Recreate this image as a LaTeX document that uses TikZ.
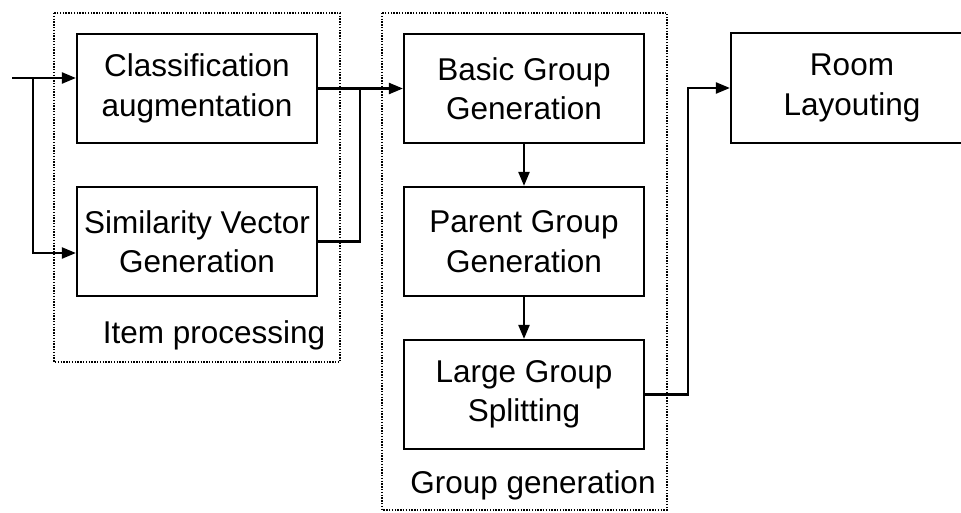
\documentclass[tikz,border=0pt]{standalone}
\usepackage{fontspec}
\setmainfont{Liberation Sans}
\usetikzlibrary{arrows.meta}
\begin{document}
\begin{tikzpicture}[x=1pt,y=-1pt,
  stepbox/.style={draw,line width=2.2pt,minimum width=240pt,minimum height=109pt,
    inner sep=0pt,align=center,font=\fontsize{31.5}{39.5}\selectfont},
  grp/.style={draw,line width=1.6pt,dash pattern=on 1.4pt off 1.4pt},
  lbl/.style={font=\fontsize{31.5}{39.5}\selectfont,inner sep=0pt,anchor=base},
  conn/.style={line width=2.2pt},
  arr/.style={conn,-{Triangle[length=14pt,width=11pt]}}]
\useasboundingbox (0,0) rectangle (961,512);
% group frames
\draw[grp] (54,13) rectangle (340,362);
\draw[grp] (382,13) rectangle (667,510);
% nodes
\node[stepbox] (cls) at (197,88.5) {Classification\\augmentation};
\node[stepbox] (sim) at (197,241.5) {Similarity Vector\\Generation};
\node[stepbox] (basic) at (524,88.5) {Basic Group\\Generation};
\node[stepbox] (parent) at (524,241.5) {Parent Group\\Generation};
\node[stepbox] (large) at (524,394.5) {Large Group\\Splitting};
\node[stepbox,minimum width=242pt,minimum height=110pt] (room) at (852,88) {Room\\Layouting};
\node[lbl] (lip) at (214,343) {Item processing};
\node[lbl] (lgg) at (533,493) {Group generation};
% coordinates
\coordinate (in) at (12,78);
\coordinate (br) at (33,78);
\coordinate (br2) at (33,253);
\coordinate (mg) at (360,88.5);
\coordinate (rt) at (688,88);
% connectors
\draw[arr] (in) -- (cls.west |- in);
\draw[arr] (br) -- (br2) -- (sim.west |- br2);
\draw[arr] (cls.east) -- (basic.west);
\draw[conn] (sim.east) -| (mg);
\draw[arr] (basic.south) -- (parent.north);
\draw[arr] (parent.south) -- (large.north);
\draw[arr] (large.east) -| (rt) -- (room.west);
\end{tikzpicture}
\end{document}
